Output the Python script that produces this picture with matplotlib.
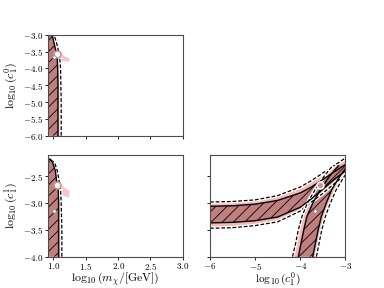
import numpy as np
import matplotlib
matplotlib.use("Agg")
import matplotlib.pyplot as plt

plt.rcParams['font.family'] = 'serif'
plt.rcParams['font.serif'] = ['cmr10', 'DejaVu Serif']
plt.rcParams['mathtext.fontset'] = 'cm'
plt.rcParams['axes.formatter.use_mathtext'] = True
plt.rcParams['hatch.linewidth'] = 0.6
plt.rcParams['axes.edgecolor'] = '0.3'

# colours
dark = '#c07f7f'
pink = '#f4b8b8'

# --- c1^1 vs m_chi (strip, given as right edge vs y) ---
c11_y = [-4.0, -3.5, -3.0, -2.75, -2.6, -2.4, -2.25, -2.18]
c11_in_r = [1.08, 1.08, 1.08, 1.075, 1.05, 1.03, 0.99, 0.94]
c11_out_r = [1.13, 1.13, 1.12, 1.11, 1.09, 1.06, 1.02, 0.95]
c11_pink_x = [0.95, 1.02, 1.10, 1.18, 1.25, 1.24, 1.15, 1.08, 1.03]
c11_pink_y = [-2.30, -2.45, -2.62, -2.72, -2.78, -2.90, -2.86, -2.95, -2.80]

# --- c1^0 vs m_chi ---
c10_y = [-6.0, -5.0, -4.5, -4.0, -3.75, -3.5, -3.25, -3.0]
c10_in_r = [1.07, 1.07, 1.07, 1.065, 1.06, 1.04, 1.01, 0.98]
c10_out_r = [1.12, 1.12, 1.115, 1.11, 1.10, 1.08, 1.05, 1.01]
c10_pink_x = [0.98, 1.03, 1.10, 1.18, 1.25, 1.24, 1.15, 1.08, 1.03]
c10_pink_y = [-3.05, -3.30, -3.55, -3.65, -3.70, -3.80, -3.78, -3.90, -3.70]

# --- c1^1 vs c1^0 : two branches ---
hb_x = [-6.0, -5.5, -5.0, -4.5, -4.0, -3.75, -3.5, -3.25, -3.0]
hb_in_up = [-3.06, -3.05, -3.02, -2.95, -2.81, -2.70, -2.56, -2.42, -2.28]
hb_in_lo = [-3.37, -3.36, -3.33, -3.26, -3.08, -2.92, -2.74, -2.56, -2.40]
hb_out_up = [-2.98, -2.97, -2.94, -2.86, -2.70, -2.58, -2.44, -2.30, -2.16]
hb_out_lo = [-3.47, -3.46, -3.42, -3.35, -3.15, -2.98, -2.82, -2.64, -2.48]

db_y = [-4.0, -3.75, -3.5, -3.25, -3.0, -2.75, -2.5, -2.3]
db_in_l = [-4.04, -3.98, -3.92, -3.85, -3.72, -3.55, -3.35, -3.15]
db_in_r = [-3.72, -3.66, -3.60, -3.53, -3.42, -3.30, -3.12, -2.95]
db_out_l = [-4.17, -4.10, -4.04, -3.96, -3.84, -3.67, -3.47, -3.28]
db_out_r = [-3.64, -3.58, -3.52, -3.44, -3.33, -3.20, -3.02, -2.85]

# best-fit points (m, c0, c1)
best_a = (1.06, -3.56, -2.67)
best_b = (1.01, -3.67, -3.14)

fig = plt.figure(figsize=(3.84, 2.88), dpi=100)
ax_tl = fig.add_axes([0.124, 0.529, 0.352, 0.35])
ax_bl = fig.add_axes([0.124, 0.109, 0.352, 0.353])
ax_br = fig.add_axes([0.547, 0.109, 0.352, 0.353])

HATCH = '///'


def dashed(ax, x, y):
    ax.plot(x, y, color='white', lw=2.6, solid_capstyle='butt')
    ax.plot(x, y, color='black', lw=0.9, ls=(0, (3, 1.5)))


def strip(ax, y, inner_r, outer_r, px, py):
    ax.fill(px, py, color=pink, lw=0, alpha=0.8)
    ax.fill_betweenx(y, 0.8, outer_r, color=pink, lw=0)
    dashed(ax, outer_r, y)
    ax.fill_betweenx(y, 0.8, inner_r, facecolor=dark, edgecolor='black',
                     hatch=HATCH, lw=0)
    ax.plot(inner_r, y, color='black', lw=1.0)
    ax.plot([0.8, inner_r[-1]], [y[-1], y[-1]], color='black', lw=1.0)


strip(ax_tl, c10_y, c10_in_r, c10_out_r, c10_pink_x, c10_pink_y)
strip(ax_bl, c11_y, c11_in_r, c11_out_r, c11_pink_x, c11_pink_y)

# bottom right
ax_br.fill_between(hb_x, hb_out_lo, hb_out_up, color=pink, lw=0)
ax_br.fill_betweenx(db_y, db_out_l, db_out_r, color=pink, lw=0)
for yy in (hb_out_up, hb_out_lo):
    dashed(ax_br, hb_x, yy)
for xx in (db_out_l, db_out_r):
    dashed(ax_br, xx, db_y)
ax_br.fill_between(hb_x, hb_in_lo, hb_in_up, facecolor=dark,
                   edgecolor='black', hatch=HATCH, lw=0)
ax_br.fill_betweenx(db_y, db_in_l, db_in_r, facecolor=dark,
                    edgecolor='black', hatch=HATCH, lw=0)
for yy in (hb_in_up, hb_in_lo):
    ax_br.plot(hb_x, yy, color='black', lw=1.0)
for xx in (db_in_l, db_in_r):
    ax_br.plot(xx, db_y, color='black', lw=1.0)

# best fit markers
ax_tl.plot(best_a[0], best_a[1], 'o', ms=5, mfc='white', mec='#d09090', mew=1.2)
ax_tl.plot(best_b[0], best_b[1], 'o', ms=2.5, mfc='white', mec='0.5', mew=0.5)
ax_bl.plot(best_a[0], best_a[2], 'o', ms=5, mfc='white', mec='#d09090', mew=1.2)
ax_bl.plot(best_b[0], best_b[2], 'o', ms=2.5, mfc='white', mec='0.5', mew=0.5)
ax_br.plot(best_a[1], best_a[2], 'o', ms=5, mfc='#d09090', mec='white', mew=1.2)
ax_br.plot(best_b[1], best_b[2], 'o', ms=2.5, mfc='white', mec='0.5', mew=0.5)

for ax in (ax_tl, ax_bl):
    ax.set_xlim(0.91, 3.0)
    ax.set_xticks([1.0, 1.5, 2.0, 2.5, 3.0])
ax_tl.set_ylim(-6.0, -3.0)
ax_tl.set_yticks(np.arange(-6.0, -2.9, 0.5))
ax_tl.tick_params(labelbottom=False)
ax_bl.set_ylim(-4.0, -2.1)
ax_bl.set_yticks([-4.0, -3.5, -3.0, -2.5])
ax_br.set_xlim(-6, -3)
ax_br.set_ylim(-4.0, -2.1)
ax_br.set_xticks([-6, -5, -4, -3])
ax_br.set_yticks([-4.0, -3.5, -3.0, -2.5])
ax_br.tick_params(labelleft=False)

for ax in (ax_tl, ax_bl, ax_br):
    ax.tick_params(labelsize=6.5, length=2, width=0.6, pad=1.2)
    for s in ax.spines.values():
        s.set_linewidth(0.8)

ax_tl.set_ylabel(r'$\log_{10}(c_1^0)$', fontsize=8.5, labelpad=2)
ax_bl.set_ylabel(r'$\log_{10}(c_1^1)$', fontsize=8.5, labelpad=2)
ax_bl.set_xlabel(r'$\log_{10}(m_\chi/[\mathrm{GeV}])$', fontsize=8.5, labelpad=-1)
ax_br.set_xlabel(r'$\log_{10}(c_1^0)$', fontsize=8.2, labelpad=-0.5)

fig.savefig('out.png', dpi=100)
